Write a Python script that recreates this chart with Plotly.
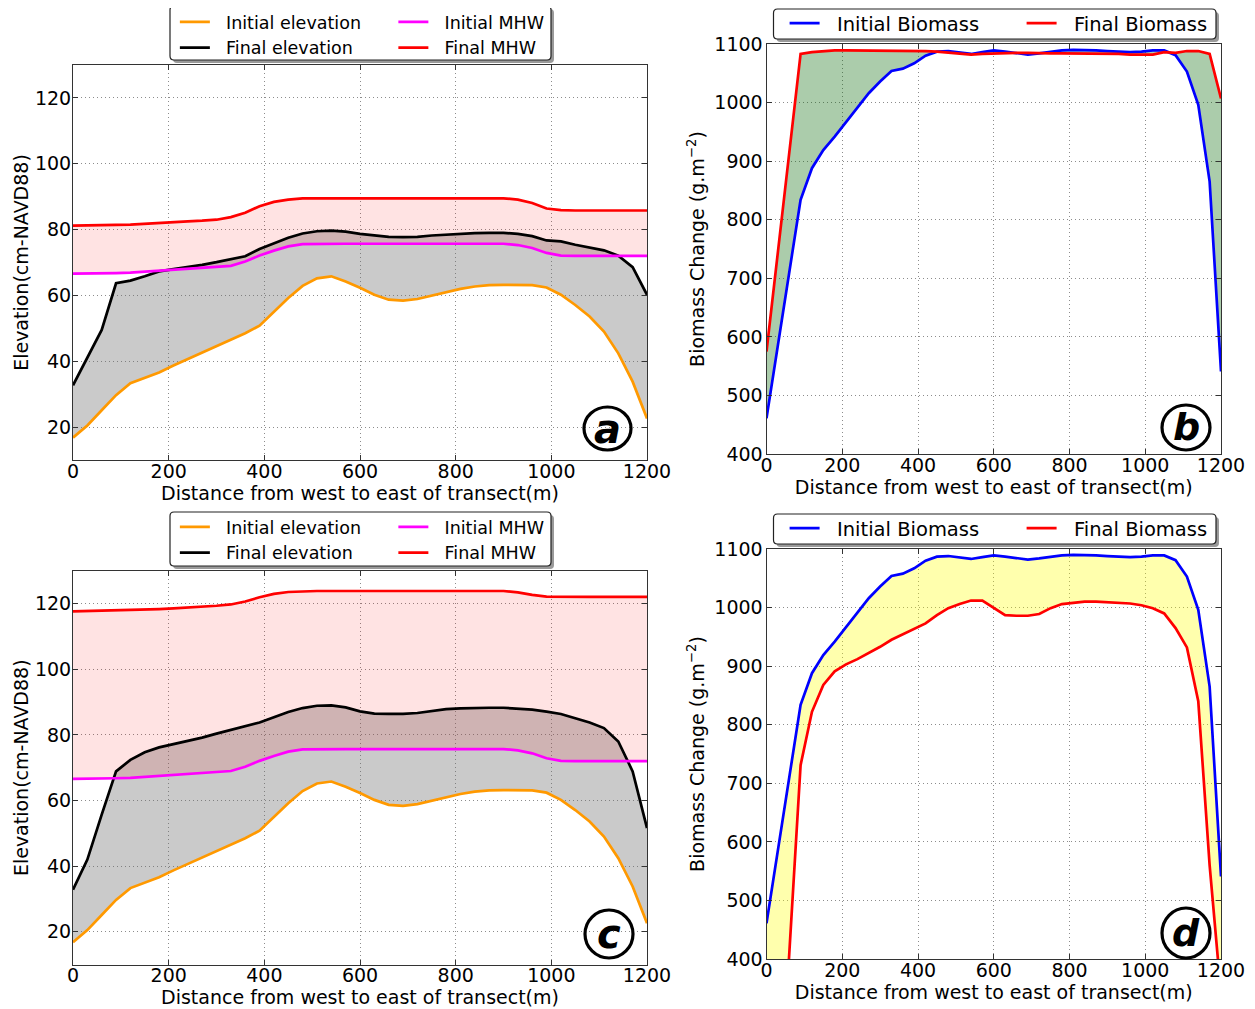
import plotly.graph_objects as go

# the page body has an 8 px margin, so the figure is drawn 8 px smaller and
# all reference pixel positions below are shifted by that margin
PAGE_MARGIN = 8
W, H = 1255 - PAGE_MARGIN, 1009 - PAGE_MARGIN

# ---------------- data ----------------
distance = [0, 30, 60, 90, 120, 150, 180, 210, 240, 270, 300, 330, 360, 390, 420, 450, 480, 510,
            540, 570, 600, 630, 660, 690, 720, 750, 780, 810, 840, 870, 900, 930, 960, 990, 1020,
            1050, 1080, 1110, 1140, 1170, 1200]

initial_elevation = [16.8, 20.5, 25.1, 29.7, 33.3, 35.0, 36.6, 38.7, 40.7, 42.7, 44.7, 46.7, 48.5,
                     50.8, 55.1, 59.2, 62.9, 65.2, 65.8, 64.2, 62.3, 60.2, 58.7, 58.4, 58.9, 59.9,
                     61.0, 62.0, 62.7, 63.1, 63.2, 63.2, 63.1, 62.4, 60.2, 57.1, 53.6, 49.0, 42.4,
                     33.8, 22.6]

final_elevation_a = [32.7, 40.9, 49.5, 63.7, 64.5, 65.8, 67.3, 68.0, 68.6, 69.3, 70.1, 70.9, 71.9,
                     74.1, 75.7, 77.5, 78.8, 79.5, 79.7, 79.4, 78.7, 78.2, 77.8, 77.7, 77.8, 78.2,
                     78.5, 78.7, 78.9, 79.0, 79.0, 78.7, 78.0, 76.7, 76.4, 75.4, 74.6, 73.7, 72.1,
                     68.6, 60.2]

initial_mhw = [66.6, 66.6, 66.7, 66.8, 66.9, 67.2, 67.5, 67.8, 68.0, 68.2, 68.5, 69.0, 70.3, 72.1,
               73.6, 74.9, 75.6, 75.7, 75.7, 75.7, 75.7, 75.7, 75.7, 75.7, 75.7, 75.7, 75.7, 75.7,
               75.7, 75.7, 75.7, 75.3, 74.4, 72.9, 72.1, 72.0, 72.0, 72.0, 72.0, 72.0, 72.0]

final_mhw_a = [81.2, 81.2, 81.3, 81.4, 81.5, 81.8, 82.0, 82.3, 82.5, 82.7, 83.0, 83.8, 85.1, 87.1,
               88.4, 89.1, 89.5, 89.5, 89.5, 89.5, 89.5, 89.5, 89.5, 89.5, 89.5, 89.5, 89.5, 89.5,
               89.5, 89.5, 89.5, 89.1, 88.1, 86.4, 85.9, 85.8, 85.8, 85.8, 85.8, 85.8, 85.8]

final_elevation_c = [32.8, 42.0, 55.7, 68.9, 72.4, 74.7, 76.2, 77.2, 78.0, 79.2, 80.4, 81.6, 82.6,
                     83.8, 85.4, 87.0, 88.2, 88.9, 89.0, 88.4, 87.2, 86.5, 86.4, 86.4, 86.7, 87.4,
                     87.9, 88.1, 88.3, 88.3, 88.3, 88.1, 87.7, 87.1, 86.4, 85.1, 83.8, 82.1, 78.0,
                     68.9, 51.6]

final_mhw_c = [117.7, 117.8, 117.9, 118.0, 118.0, 118.2, 118.4, 118.6, 118.8, 119.1, 119.4, 119.8,
               120.7, 122.0, 123.0, 123.6, 123.8, 123.9, 123.9, 123.9, 123.9, 123.9, 123.9, 123.9,
               123.9, 123.9, 123.9, 123.9, 123.9, 123.9, 123.9, 123.5, 122.7, 122.2, 122.1, 122.1,
               122.1, 122.1, 122.1, 122.1, 122.1]

initial_biomass = [461, 585, 710, 834, 888, 919, 942, 967, 993, 1016, 1036, 1054, 1058, 1067, 1080,
                   1087, 1088, 1086, 1083, 1086, 1089, 1087, 1084, 1082, 1084, 1087, 1089, 1090,
                   1090, 1089, 1088, 1087, 1086, 1087, 1089, 1089, 1081, 1053, 996, 865, 541]

final_biomass_b = [575, 745, 915, 1083, 1086, 1088, 1089, 1089, 1089, 1089, 1089, 1089, 1089, 1089,
                   1088, 1087, 1085, 1083, 1082, 1083, 1084, 1084, 1085, 1085, 1084, 1084, 1084,
                   1084, 1084, 1084, 1084, 1083, 1082, 1082, 1082, 1086, 1085, 1088, 1088, 1083, 1007]

final_biomass_d = [0, 90, 408, 731, 822, 868, 891, 903, 912, 922, 933, 945, 954, 964, 973, 987, 999,
                   1006, 1012, 1012, 1000, 987, 986, 986, 989, 999, 1006, 1008, 1010, 1010, 1009,
                   1008, 1007, 1004, 999, 990, 965, 932, 840, 560, 340]

x_ticks = [0, 200, 400, 600, 800, 1000, 1200]
elev_ticks = [20, 40, 60, 80, 100, 120]
bio_ticks = [400, 500, 600, 700, 800, 900, 1000, 1100]

# ---------------- figure ----------------
FONT = "DejaVu Sans"
NB = "\u00a0\u00a0"  # small gap between legend sample line and its label
fig = go.Figure()


def line(x, y, name, color, xa, ya, legend):
    fig.add_trace(go.Scatter(
        x=x, y=y, mode="lines", name=NB + name,
        line=dict(color=color, width=2.7),
        xaxis=xa, yaxis=ya, legend=legend, hoverinfo="skip"))


def band(x, y_low, y_high, fillcolor, xa, ya):
    # lower edge (invisible) then upper edge filled down to it
    fig.add_trace(go.Scatter(x=x, y=y_low, mode="lines", line=dict(width=0),
                             xaxis=xa, yaxis=ya, showlegend=False, hoverinfo="skip"))
    fig.add_trace(go.Scatter(x=x, y=y_high, mode="lines", line=dict(width=0),
                             fill="tonexty", fillcolor=fillcolor,
                             xaxis=xa, yaxis=ya, showlegend=False, hoverinfo="skip"))


GRAY = "rgba(110,110,110,0.37)"
PINK = "rgba(255,0,0,0.11)"
GREEN = "rgba(0,100,0,0.33)"
YELLOW = "rgba(255,255,0,0.32)"

# panel a
band(distance, initial_elevation, final_elevation_a, GRAY, "x", "y")
band(distance, initial_mhw, final_mhw_a, PINK, "x", "y")
line(distance, initial_elevation, "Initial elevation", "#ff9900", "x", "y", "legend")
line(distance, final_elevation_a, "Final elevation", "black", "x", "y", "legend")
line(distance, initial_mhw, "Initial MHW", "#ff00ff", "x", "y", "legend2")
line(distance, final_mhw_a, "Final MHW", "#ff0000", "x", "y", "legend2")
# panel b
band(distance, initial_biomass, final_biomass_b, GREEN, "x2", "y2")
line(distance, initial_biomass, "Initial Biomass", "#0000ff", "x2", "y2", "legend3")
line(distance, final_biomass_b, "Final Biomass", "#ff0000", "x2", "y2", "legend4")
# panel c
band(distance, initial_elevation, final_elevation_c, GRAY, "x3", "y3")
band(distance, initial_mhw, final_mhw_c, PINK, "x3", "y3")
line(distance, initial_elevation, "Initial elevation", "#ff9900", "x3", "y3", "legend5")
line(distance, final_elevation_c, "Final elevation", "black", "x3", "y3", "legend5")
line(distance, initial_mhw, "Initial MHW", "#ff00ff", "x3", "y3", "legend6")
line(distance, final_mhw_c, "Final MHW", "#ff0000", "x3", "y3", "legend6")
# panel d
band(distance, initial_biomass, final_biomass_d, YELLOW, "x4", "y4")
line(distance, initial_biomass, "Initial Biomass", "#0000ff", "x4", "y4", "legend7")
line(distance, final_biomass_d, "Final Biomass", "#ff0000", "x4", "y4", "legend8")


def px(v):
    return (v - PAGE_MARGIN) / W


def py(v):
    return 1 - (v - PAGE_MARGIN) / H


def axis_common():
    return dict(
        showline=True, linecolor="#333333", linewidth=1, mirror="ticks",
        ticks="inside", ticklen=5, tickcolor="#333333",
        showgrid=True, gridcolor="#8c8c8c", griddash="1px,3px", gridwidth=1,
        zeroline=False, fixedrange=True, automargin=False,
        tickfont=dict(family=FONT, size=19, color="black"),
    )


xt = "Distance from west to east of transect(m)"
panels = {
    "a": dict(xd=[73, 647], yd=[65, 460], yr=[10, 130], yt=elev_ticks,
              ytitle="Elevation(cm-NAVD88)", ys=1, yls=-3),
    "b": dict(xd=[766.5, 1221], yd=[44, 454], yr=[400, 1100], yt=bio_ticks,
              ytitle="Biomass Change (g.m<sup>−2</sup>)", ys=4, yls=-1),
    "c": dict(xd=[73, 647], yd=[571, 964.5], yr=[10, 130], yt=elev_ticks,
              ytitle="Elevation(cm-NAVD88)", ys=1, yls=-3),
    "d": dict(xd=[766.5, 1221], yd=[549, 959], yr=[400, 1100], yt=bio_ticks,
              ytitle="Biomass Change (g.m<sup>−2</sup>)", ys=4, yls=-1),
}
layout = {}
for i, (k, p) in enumerate(panels.items()):
    sfx = "" if i == 0 else str(i + 1)
    xa = axis_common()
    xa.update(domain=[px(p["xd"][0]), px(p["xd"][1])], range=[0, 1200], tickvals=x_ticks,
              anchor="y" + sfx, ticklabelstandoff=-6,
              title=dict(text=xt, font=dict(family=FONT, size=19, color="black"), standoff=0))
    ya = axis_common()
    ya.update(domain=[py(p["yd"][1]), py(p["yd"][0])], range=p["yr"], tickvals=p["yt"],
              anchor="x" + sfx, ticklabelstandoff=p["yls"],
              title=dict(text=p["ytitle"], font=dict(family=FONT, size=19, color="black"),
                         standoff=p["ys"]))
    layout["xaxis" + sfx] = xa
    layout["yaxis" + sfx] = ya


# legends (one per column, so entries sit in the same grid as the original)
def legend_at(text_x, ytop, size):
    gap = 2 * 0.318 * size
    return dict(x=px(text_x - 40 - gap), y=py(ytop), xanchor="left", yanchor="top",
                bgcolor="rgba(0,0,0,0)", borderwidth=0, orientation="v",
                traceorder="normal", itemwidth=30,
                font=dict(family=FONT, size=size, color="black"), tracegroupgap=0)


layout["legend"] = legend_at(226, 4, 17.5)
layout["legend2"] = legend_at(444.5, 4, 17.5)
layout["legend3"] = legend_at(837, 4, 19.5)
layout["legend4"] = legend_at(1074, 4, 19.5)
layout["legend5"] = legend_at(226, 509, 17.5)
layout["legend6"] = legend_at(444.5, 509, 17.5)
layout["legend7"] = legend_at(837, 509, 19.5)
layout["legend8"] = legend_at(1074, 509, 19.5)

shapes = []
annotations = []


def rounded_rect_path(x0, y0, x1, y1, r):
    # pixel box (y down) -> paper path with rounded corners
    X0, X1 = px(x0), px(x1)
    Yt, Yb = py(y0), py(y1)
    rx, ry = r / W, r / H
    return (f"M {X0 + rx},{Yt} L {X1 - rx},{Yt} Q {X1},{Yt} {X1},{Yt - ry} "
            f"L {X1},{Yb + ry} Q {X1},{Yb} {X1 - rx},{Yb} L {X0 + rx},{Yb} "
            f"Q {X0},{Yb} {X0},{Yb + ry} L {X0},{Yt - ry} Q {X0},{Yt} {X0 + rx},{Yt} Z")


def legend_box(x0, y0, x1, y1):
    shapes.append(dict(type="path", xref="paper", yref="paper",
                       path=rounded_rect_path(x0 + 3, y0 + 3, x1 + 3, y1 + 3, 4),
                       line=dict(width=0), fillcolor="#9a9a9a", layer="above"))
    shapes.append(dict(type="path", xref="paper", yref="paper",
                       path=rounded_rect_path(x0, y0, x1, y1, 4),
                       line=dict(width=1.2, color="#222222"), fillcolor="white", layer="above"))


legend_box(170, 6, 551, 60)
legend_box(773.5, 9, 1216, 39)
legend_box(170, 512, 551, 566)
legend_box(773.5, 514, 1216, 544)


def badge(letter, cx, cy, w, h, size):
    shapes.append(dict(type="circle", xref="paper", yref="paper",
                       x0=px(cx - w / 2), x1=px(cx + w / 2), y0=py(cy + h / 2), y1=py(cy - h / 2),
                       line=dict(width=3.2, color="black"), fillcolor="rgba(0,0,0,0)", layer="above"))
    annotations.append(dict(xref="paper", yref="paper", x=px(cx), y=py(cy), xanchor="center",
                            yanchor="middle", showarrow=False, text="<b><i>%s</i></b>" % letter,
                            font=dict(family=FONT, size=size, color="black")))


badge("a", 607.5, 428.5, 47, 43, 40)
badge("b", 1186, 427.5, 48, 45, 38)
badge("c", 609, 934, 48, 48, 40)
badge("d", 1186, 933, 48, 50, 38)

fig.update_layout(
    **layout,
    width=W, height=H,
    margin=dict(l=0, r=0, t=0, b=0, autoexpand=False),
    paper_bgcolor="white", plot_bgcolor="white",
    font=dict(family=FONT, color="black"),
    shapes=shapes, annotations=annotations,
)

fig.write_html("out.html")
